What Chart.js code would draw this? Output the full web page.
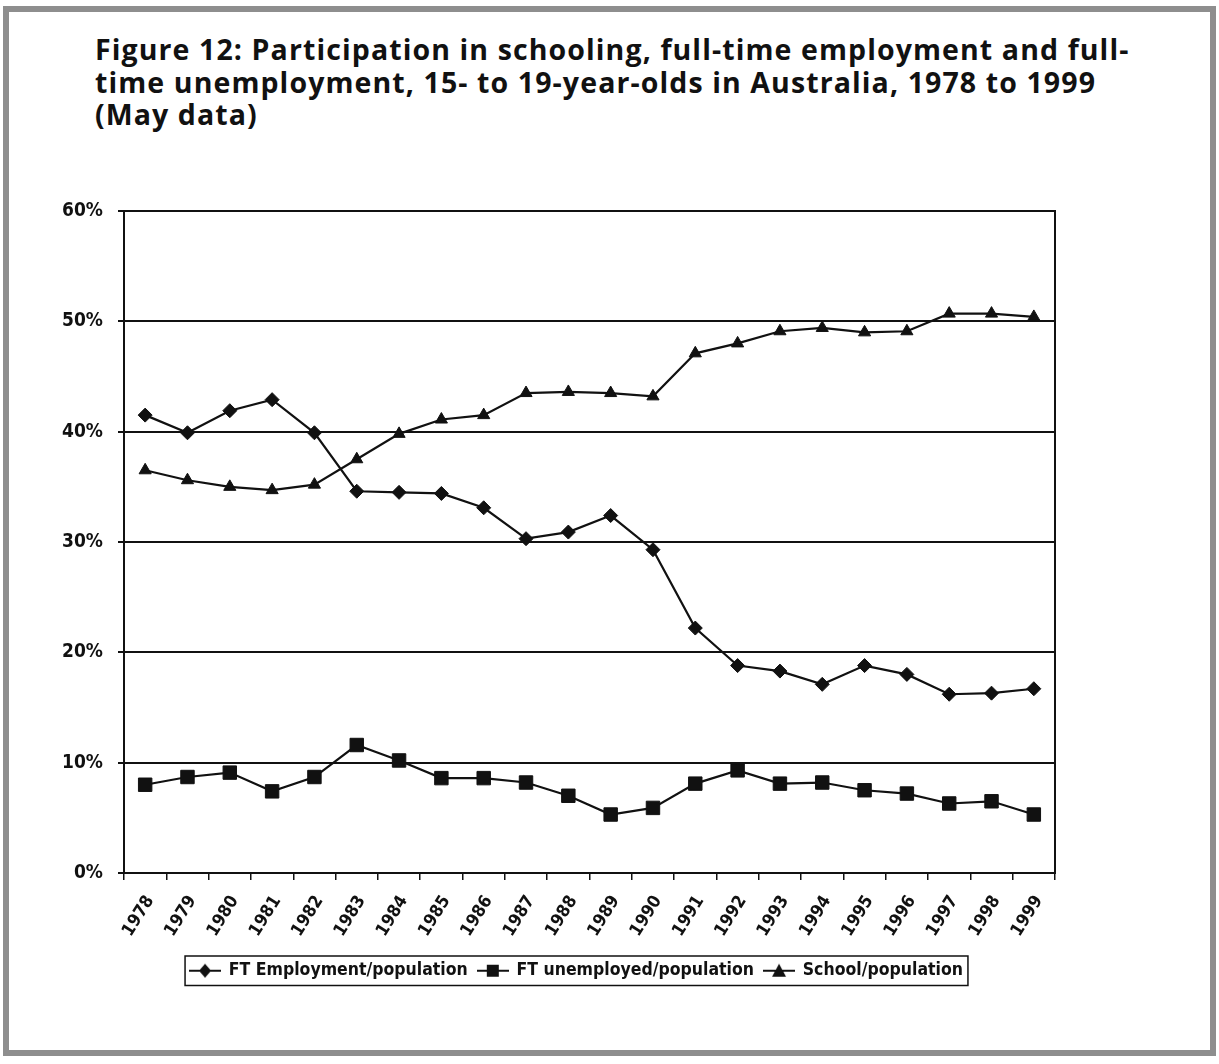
<!DOCTYPE html>
<html><head><meta charset="utf-8">
<script src="https://cdn.jsdelivr.net/npm/chart.js@4/dist/chart.umd.min.js"></script>
<style>
html,body{margin:0;padding:0;background:#fff;}
body{width:1219px;height:1064px;position:relative;overflow:hidden;}
#frame{position:absolute;left:3px;top:6px;width:1213px;height:1050px;box-sizing:border-box;border:6px solid #8e8e8e;}
#title{position:absolute;left:95px;top:33px;font-family:'Open Sans',sans-serif;font-weight:bold;font-size:28.5px;letter-spacing:1.1px;line-height:32.5px;color:#111;white-space:nowrap;}
#wrap{position:absolute;left:0;top:0;width:1219px;height:1064px;}
</style></head>
<body>
<div id="frame"></div>
<div id="title">Figure 12: Participation in schooling, full-time employment and full-<br>time unemployment, 15- to 19-year-olds in Australia, 1978 to 1999<br>(May data)</div>
<div id="wrap"><canvas id="c"></canvas></div>
<script>
const years = ['1978','1979','1980','1981','1982','1983','1984','1985','1986','1987','1988','1989','1990','1991','1992','1993','1994','1995','1996','1997','1998','1999'];
const ftEmployment = [41.5,39.9,41.9,42.9,39.9,34.6,34.5,34.4,33.1,30.3,30.9,32.4,29.3,22.2,18.8,18.3,17.1,18.8,18.0,16.2,16.3,16.7];
const ftUnemployed = [8.0,8.7,9.1,7.4,8.7,11.6,10.2,8.6,8.6,8.2,7.0,5.3,5.9,8.1,9.3,8.1,8.2,7.5,7.2,6.3,6.5,5.3];
const school = [36.5,35.6,35.0,34.7,35.2,37.5,39.8,41.1,41.5,43.5,43.6,43.5,43.2,47.1,48.0,49.1,49.4,49.0,49.1,50.7,50.7,50.4];
const seriesNames = ['FT Employment/population','FT unemployed/population','School/population'];
const markerStyles = ['rectRot','rect','triangle'];
const markerRadii = [7,9.5,7];
const yTicks = [0,10,20,30,40,50,60];

const narrow = "'Liberation Sans Narrow','DejaVu Sans Condensed','Liberation Sans',Arial,sans-serif";
Chart.defaults.font.family = narrow;
Chart.defaults.color = '#111';

function makeIcon(kind){
  const c = document.createElement('canvas');
  c.width = 32; c.height = 18;
  const g = c.getContext('2d');
  g.strokeStyle = '#111'; g.fillStyle = '#111'; g.lineWidth = 2;
  g.beginPath(); g.moveTo(0,9); g.lineTo(32,9); g.stroke();
  g.beginPath();
  if (kind === 'rectRot') { g.moveTo(16,2); g.lineTo(22,9); g.lineTo(16,16); g.lineTo(10,9); g.closePath(); }
  else if (kind === 'rect') { g.rect(10,3,12,12); }
  else { g.moveTo(16,2); g.lineTo(23,15); g.lineTo(9,15); g.closePath(); }
  g.fill();
  return c;
}
const icons = markerStyles.map(makeIcon);

const dataSets = [ftEmployment, ftUnemployed, school].map((d,i)=>({
  label: seriesNames[i],
  data: d,
  borderColor: '#111',
  backgroundColor: '#111',
  borderWidth: 2.2,
  pointStyle: markerStyles[i],
  pointRadius: markerRadii[i],
  pointBackgroundColor: '#111',
  pointBorderColor: '#111',
  pointBorderWidth: 1,
  tension: 0,
  fill: false
}));

const legendBox = {
  id: 'legendBox',
  afterLayout(chart){
    const lg = chart.legend;
    lg.left -= 13; lg.right -= 13;
  },
  afterDraw(chart){
    const hb = chart.legend.legendHitBoxes;
    if (!hb || !hb.length) return;
    let l = Infinity, r = -Infinity, t = Infinity, b = -Infinity;
    hb.forEach(h=>{ l=Math.min(l,h.left); r=Math.max(r,h.left+h.width); t=Math.min(t,h.top); b=Math.max(b,h.top+h.height); });
    const g = chart.ctx;
    g.save(); g.strokeStyle = '#111'; g.lineWidth = 1.5;
    g.strokeRect(l-5, t-6, (r-l)+10, (b-t)+12);
    g.restore();
  }
};

new Chart(document.getElementById('c'), {
  type: 'line',
  data: { labels: years, datasets: dataSets },
  plugins: [legendBox],
  options: {
    responsive: true,
    maintainAspectRatio: false,
    animation: false,
    layout: { padding: { left: 0, top: 211, right: 164, bottom: 74.5 } },
    plugins: {
      title: { display: false },
      tooltip: { enabled: false },
      legend: {
        position: 'bottom',
        fullSize: false,
        labels: {
          usePointStyle: true,
          pointStyleWidth: 30,
          padding: 10,
          color: '#111',
          font: { size: 17.5, weight: 'bold', family: narrow },
          generateLabels(chart){
            const base = Chart.defaults.plugins.legend.labels.generateLabels(chart);
            return base.map((it,i)=>Object.assign(it,{pointStyle: icons[i], lineWidth: 0}));
          }
        }
      }
    },
    scales: {
      x: {
        type: 'category',
        offset: true,
        afterFit(s){ s.height = 79; },
        grid: { display: true, drawOnChartArea: false, drawTicks: true, tickLength: 7, color: '#111', lineWidth: 1.5, offset: true },
        border: { display: true, color: '#111', width: 2 },
        ticks: {
          autoSkip: false, minRotation: 58, maxRotation: 58, padding: 12, labelOffset: 5,
          color: '#111', font: { size: 17.5, weight: 'bold', family: narrow }
        }
      },
      y: {
        type: 'linear',
        min: 0, max: 60,
        afterFit(s){ s.width = 124; },
        afterBuildTicks(s){ s.ticks = yTicks.map(v=>({value:v})); },
        grid: { color: '#111', lineWidth: 2, drawTicks: true, tickLength: 6 },
        border: { display: true, color: '#111', width: 2 },
        ticks: {
          padding: 15, color: '#111',
          font: { size: 19, weight: 'bold', family: narrow },
          callback: v => v + '%'
        }
      },
      yR: {
        type: 'linear', position: 'right', min: 0, max: 60,
        afterFit(s){ s.width = 0; },
        grid: { display: false, drawTicks: false },
        ticks: { display: false },
        border: { display: true, color: '#111', width: 2 }
      }
    }
  }
});
</script>
</body></html>
